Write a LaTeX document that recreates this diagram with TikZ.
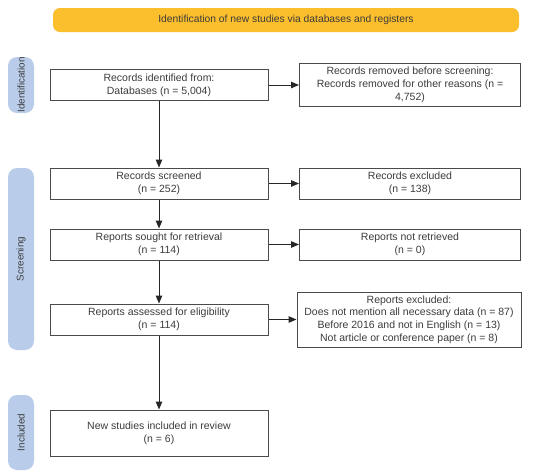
\documentclass[tikz,border=0pt]{standalone}
\usepackage{fontspec}
\setmainfont{Liberation Sans}
\usetikzlibrary{arrows.meta}
\definecolor{bandyellow}{HTML}{FBBE2C}
\definecolor{bandblue}{HTML}{B9CDEB}
\definecolor{txtgray}{HTML}{3C3C3C}
\definecolor{edgegray}{HTML}{4A4A4A}
\tikzset{
  flowbox/.style={draw=edgegray, line width=1pt, fill=white, text=txtgray, align=center, inner sep=0pt, font=\fontsize{10.5}{12.8}\selectfont},
  phase/.style={fill=bandblue, rounded corners=9pt, inner sep=0pt},
  phaselabel/.style={rotate=90, text=txtgray, font=\fontsize{9.8}{11}\selectfont},
  flowarrow/.style={-{Triangle[length=8pt,width=6.5pt]}, line width=1pt, draw=black!85}
}
\begin{document}
\begin{tikzpicture}[x=1pt,y=-1pt]
\useasboundingbox (0,0) rectangle (550,475);
% top banner
\node[fill=bandyellow, rounded corners=7pt, minimum width=466pt, minimum height=24pt, inner sep=0pt, text=txtgray, font=\fontsize{10.3}{12}\selectfont] (banner) at (286,20) {Identification of new studies via databases and registers};
% phase pills
\node[phase, minimum width=26pt, minimum height=56pt] (pid) at (21,85) {};
\node[phaselabel] (pidl) at (pid.center) {Identification};
\node[phase, minimum width=26pt, minimum height=182pt] (psc) at (21,259) {};
\node[phaselabel] (pscl) at (psc.center) {Screening};
\node[phase, minimum width=26pt, minimum height=75pt] (pin) at (21,432.5) {};
\node[phaselabel] (pinl) at (pin.center) {Included};
% left column
\node[flowbox, minimum width=218pt, minimum height=31pt] (ident) at (159,85) {Records identified from:\\Databases (n = 5,004)};
\node[flowbox, minimum width=218pt, minimum height=31pt] (screen) at (159,183.5) {Records screened\\(n = 252)};
\node[flowbox, minimum width=218pt, minimum height=31pt] (sought) at (159,244.5) {Reports sought for retrieval\\(n = 114)};
\node[flowbox, minimum width=218pt, minimum height=31pt] (assess) at (159,319.5) {Reports assessed for eligibility\\(n = 114)};
\node[flowbox, minimum width=218pt, minimum height=46pt] (incl) at (159,433) {New studies included in review\\(n = 6)};
% right column
\node[flowbox, minimum width=221pt, minimum height=43pt] (removed) at (410,85) {Records removed before screening:\\Records removed for other reasons (n =\\4,752)};
\node[flowbox, minimum width=221pt, minimum height=31pt] (excl) at (410,183.5) {Records excluded\\(n = 138)};
\node[flowbox, minimum width=221pt, minimum height=31pt] (notret) at (410,244.5) {Reports not retrieved\\(n = 0)};
\node[flowbox, minimum width=224pt, minimum height=55pt] (repexcl) at (409,319.5) {Reports excluded:\\Does not mention all necessary data (n = 87)\\Before 2016 and not in English (n = 13)\\Not article or conference paper (n = 8)};
% arrows
\draw[flowarrow] (ident) -- (screen);
\draw[flowarrow] (screen) -- (sought);
\draw[flowarrow] (sought) -- (assess);
\draw[flowarrow] (assess) -- (incl);
\draw[flowarrow] (ident) -- (removed);
\draw[flowarrow] (screen) -- (excl);
\draw[flowarrow] (sought) -- (notret);
\draw[flowarrow] (assess) -- (repexcl);
\end{tikzpicture}
\end{document}
